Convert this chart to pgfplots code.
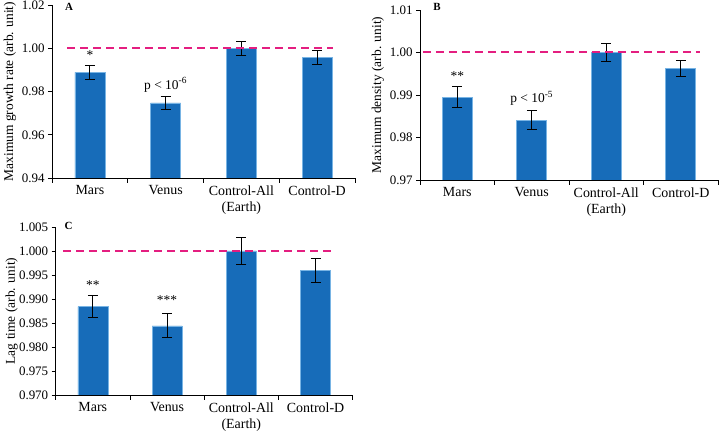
\documentclass[border=0pt]{standalone}
\usepackage{fontspec}
\setmainfont{Liberation Serif}
\usepackage{pgfplots}
\pgfplotsset{compat=1.18}
\definecolor{barblue}{RGB}{23,108,185}
\definecolor{baredge}{RGB}{120,180,228}
\definecolor{refpink}{RGB}{228,30,128}

\tikzset{
  ann/.style={font=\fontsize{13.5}{16}\selectfont, inner sep=0pt},
  letter/.style={font=\fontsize{11}{12}\selectfont\bfseries, inner sep=0pt},
}
\pgfplotsset{
  panel/.style={
    scale only axis,
    clip mode=individual,
    axis x line=bottom, axis y line=left,
    axis line style={-, line width=0.8bp, black},
    xmin=-0.5, xmax=3.5,
    xtick={0,1,2,3},
    xticklabels={Mars, Venus, {Control-All\\(Earth)}, Control-D},
    xticklabel style={align=center, font=\fontsize{14}{16}\selectfont},
    yticklabel style={font=\fontsize{13}{15}\selectfont},
    minor xtick={-0.5,0.5,1.5,2.5,3.5},
    major x tick style={draw=none},
    minor x tick style={black, line width=0.8bp},
    y tick style={black, line width=0.8bp},
    tick align=outside,
    major tick length=4bp,
    minor tick length=5bp,
    /pgf/number format/assume math mode=true,
    yticklabel style={/pgf/number format/fixed, /pgf/number format/fixed zerofill},
  },
  bars/.style={
    ybar, bar width=30bp, fill=barblue, draw=baredge, line width=0.6bp,
    error bars/.cd, y dir=both, y explicit,
    error bar style={black, line width=1bp},
    error mark options={rotate=90, mark size=5bp, line width=1bp, black},
  },
  refline/.style={draw=refpink, solid, line width=2bp, dash pattern=on 8bp off 5bp},
}

\begin{document}
\begin{tikzpicture}
\useasboundingbox (0,0) rectangle (720bp,436bp);

% Panel A
\begin{axis}[panel, at={(52bp,258bp)}, anchor=south west,
  width=303bp, height=172.7bp,
  ymin=0.94, ymax=1.02, ytick={0.94,0.96,0.98,1.00,1.02},
  yticklabel style={/pgf/number format/precision=2},
  ylabel style={font=\fontsize{13.5}{15}\selectfont, at={(axis description cs:-0.139,0.5)}, anchor=center},
  ylabel={Maximum growth rate (arb. unit)}]
\addplot[bars] coordinates {
  (0,0.98897) +- (0,0.0032)
  (1,0.97475) +- (0,0.0028)
  (2,1.0000) +- (0,0.0033)
  (3,0.99578) +- (0,0.0032)
};
\addplot[refline] table {
x y
-0.30 1.0
3.21 1.0
};
\node[ann] at (axis cs:0,0.9968) {*};
\node[ann] at (axis cs:1,0.9832) {p < 10\textsuperscript{-6}};
\node[letter] at (rel axis cs:0.056,0.988) {A};
\end{axis}

% Panel B
\begin{axis}[panel, at={(420bp,256bp)}, anchor=south west,
  width=298bp, height=170bp,
  ymin=0.97, ymax=1.01, ytick={0.97,0.98,0.99,1.00,1.01},
  yticklabel style={/pgf/number format/precision=2},
  ylabel style={font=\fontsize{13.5}{15}\selectfont, at={(axis description cs:-0.141,0.5)}, anchor=center},
  ylabel={Maximum density (arb. unit)}]
\addplot[bars] coordinates {
  (0,0.9895) +- (0,0.0024)
  (1,0.9841) +- (0,0.0022)
  (2,1.0000) +- (0,0.0021)
  (3,0.9963) +- (0,0.0019)
};
\addplot[refline] table {
x y
-0.46 1.0
3.26 1.0
};
\node[ann] at (axis cs:0,0.9945) {**};
\node[ann] at (axis cs:1,0.9893) {p < 10\textsuperscript{-5}};
\node[letter] at (rel axis cs:0.057,1.018) {B};
\end{axis}

% Panel C
\begin{axis}[panel, at={(55.7bp,41bp)}, anchor=south west,
  width=297bp, height=168bp,
  ymin=0.970, ymax=1.005, ytick={0.970,0.975,0.980,0.985,0.990,0.995,1.000,1.005},
  yticklabel style={/pgf/number format/precision=3},
  ylabel style={font=\fontsize{13.5}{15}\selectfont, at={(axis description cs:-0.148,0.5)}, anchor=center},
  ylabel={Lag time (arb. unit)}]
\addplot[bars] coordinates {
  (0,0.9884) +- (0,0.0023)
  (1,0.9844) +- (0,0.0025)
  (2,1.0000) +- (0,0.0029)
  (3,0.9959) +- (0,0.0025)
};
\addplot[refline] table {
x y
-0.40 1.0
3.25 1.0
};
\node[ann] at (axis cs:0,0.9929) {**};
\node[ann] at (axis cs:1,0.9898) {***};
\node[letter] at (rel axis cs:0.043,1.005) {C};
\end{axis}
\end{tikzpicture}
\end{document}
